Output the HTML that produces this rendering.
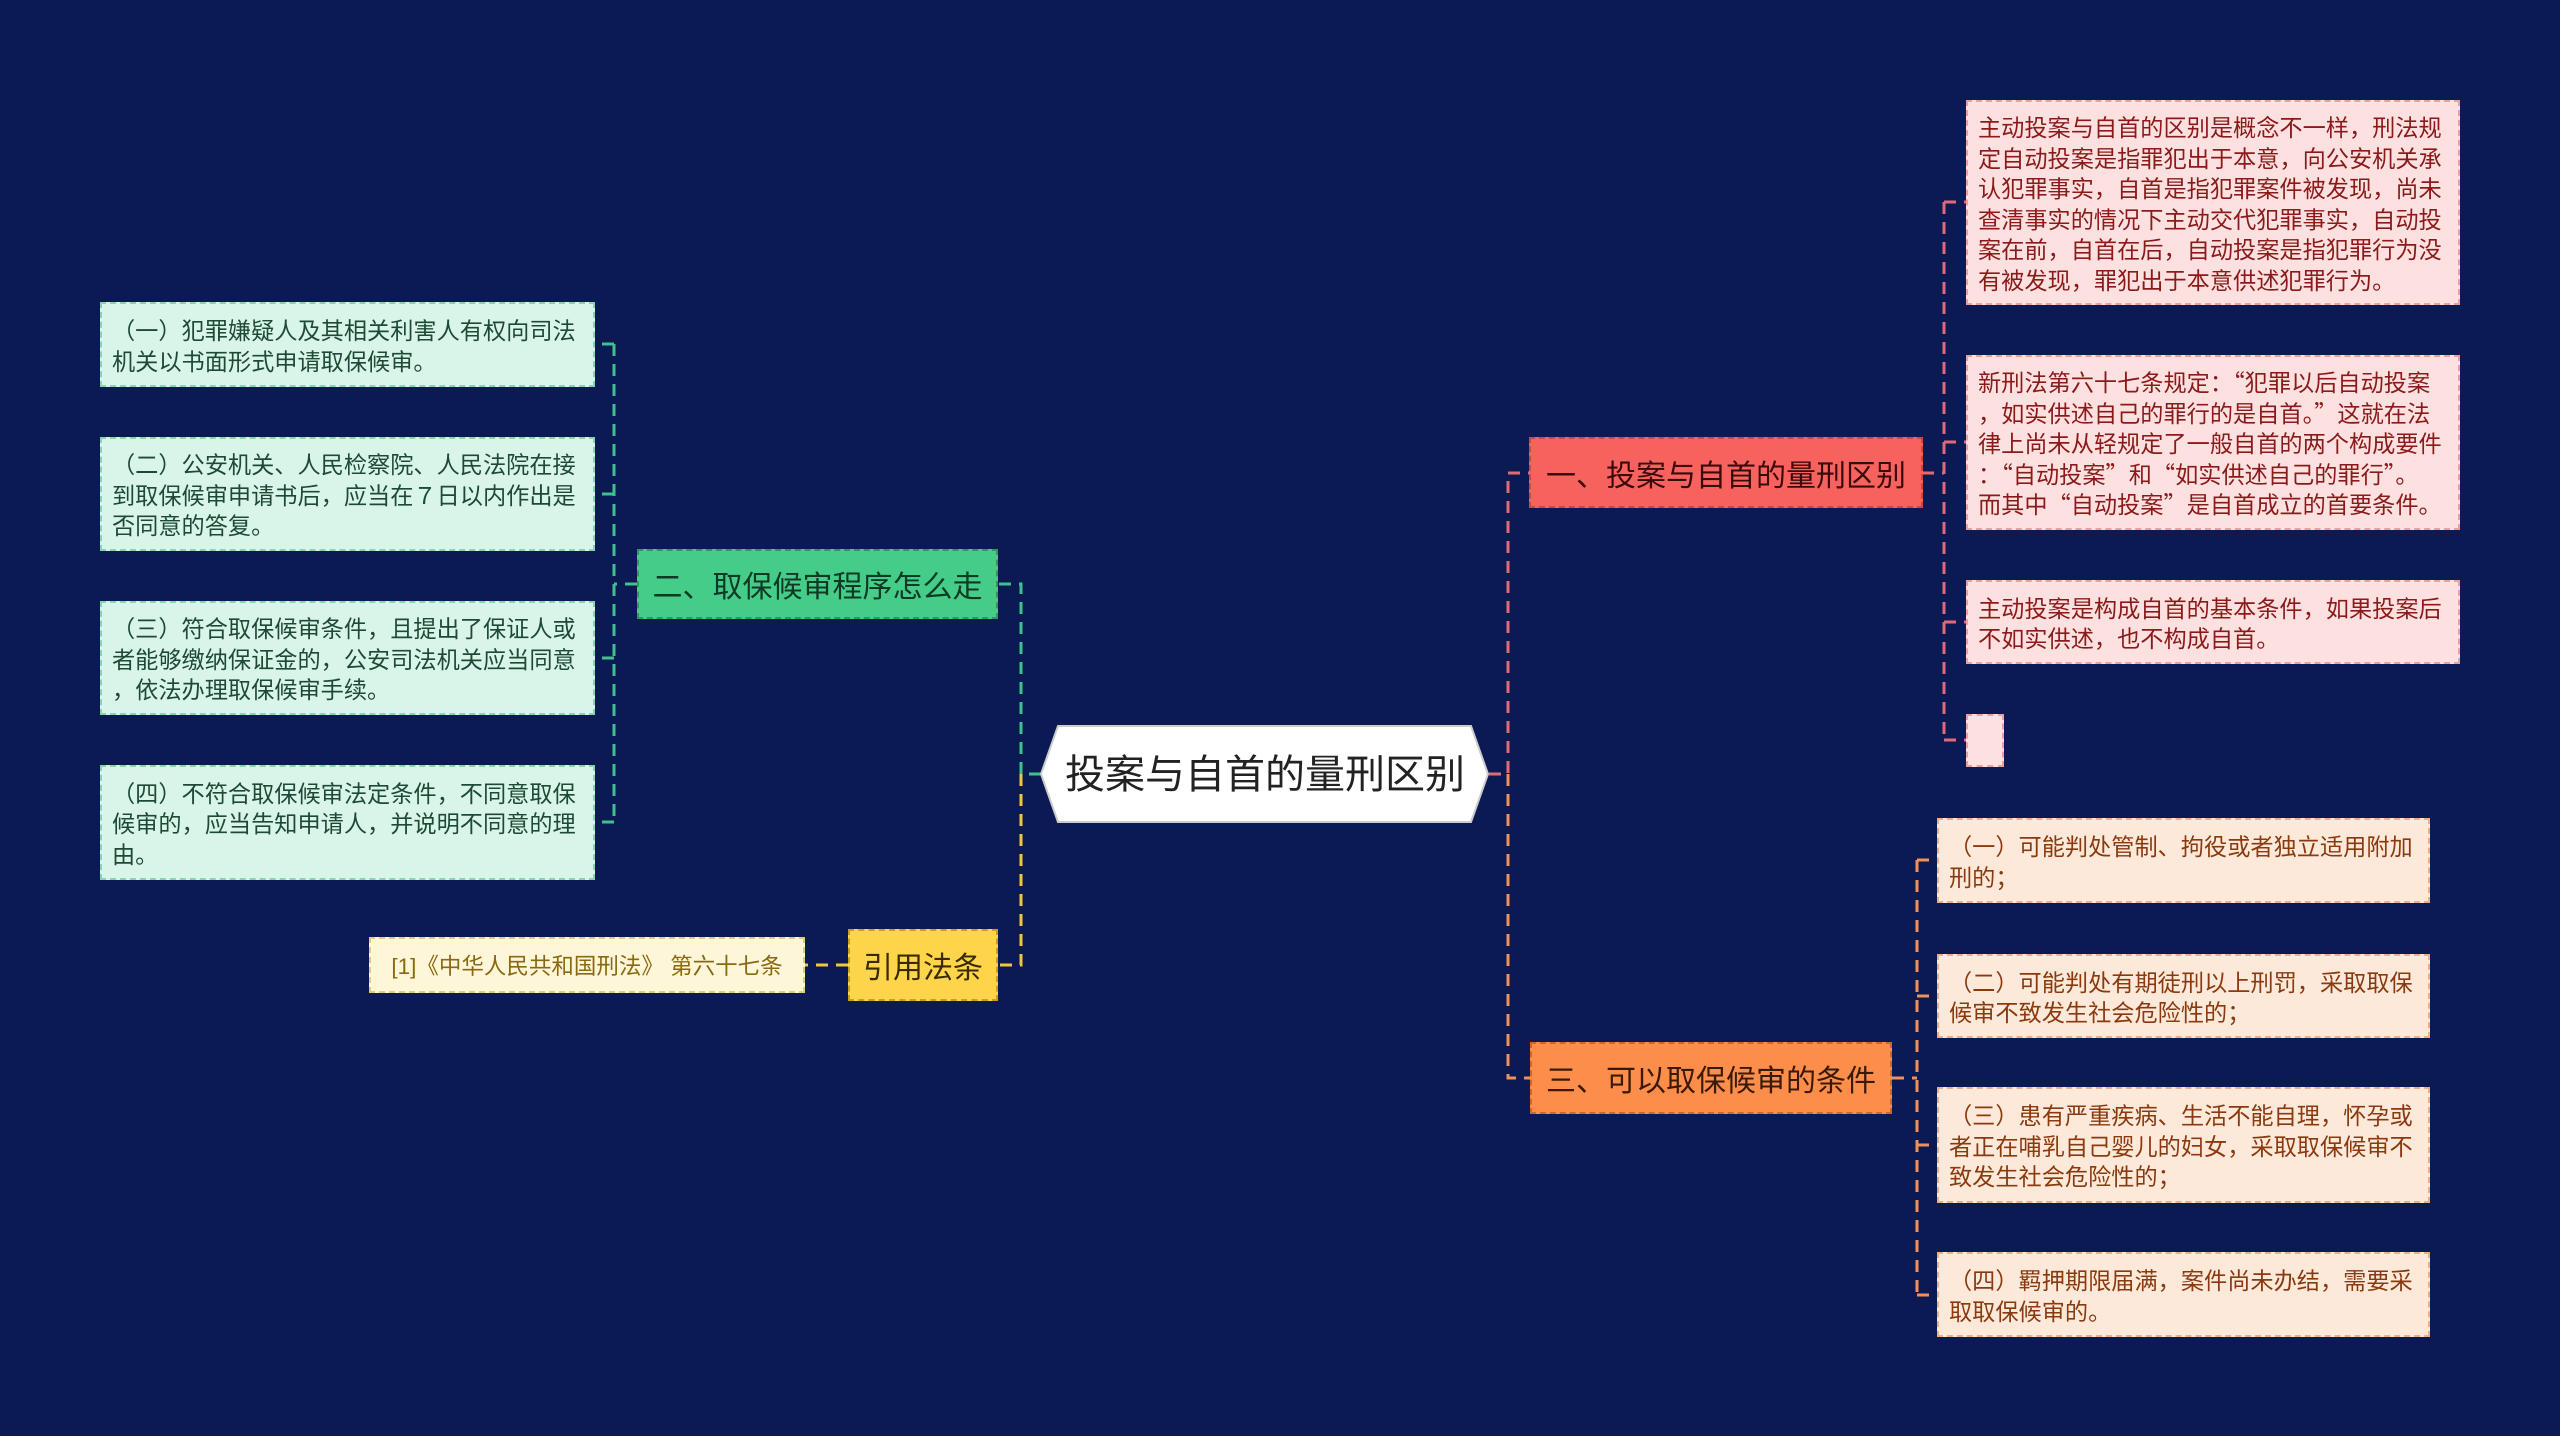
<!DOCTYPE html>
<html><head><meta charset="utf-8">
<style>
html,body{margin:0;padding:0}
body{width:2560px;height:1436px;background:#0c1a54;position:relative;overflow:hidden;font-family:"Liberation Sans","Noto Sans CJK SC",sans-serif}
.b{position:absolute;box-sizing:border-box;border:2px dashed}
.leaf{font-family:"Noto Sans CJK SC",sans-serif;font-size:23.2px;line-height:30.5px;padding:0 10px;display:flex;align-items:center;text-align:left;word-break:break-all;line-break:anywhere}
.node{display:flex;align-items:center;justify-content:center;white-space:nowrap}
.pk{background:#fde0e0;border-color:#e8a0a0;color:#8b1a1a}
.gr{background:#d9f5e9;border-color:#88d4ad;color:#1e4a35}
.og{background:#fde9da;border-color:#e8b090;color:#8a3a0e}
</style></head><body>
<svg width="2560" height="1436" style="position:absolute;left:0;top:0" fill="none" stroke-width="3" stroke-dasharray="12 8">
<g stroke="#e06a78">
<path d="M1489 774 H1508 V473 H1530"/>
<path d="M1922 473 H1944 M1944 202 V740 M1944 202 H1966 M1944 442 H1966 M1944 622 H1966 M1944 740 H1966"/>
</g>
<g stroke="#f0905a">
<path d="M1508 774 V1078 H1530"/>
<path d="M1892 1078 H1917 M1917 860 V1295 M1917 860 H1937 M1917 996 H1937 M1917 1145 H1937 M1917 1295 H1937"/>
</g>
<g stroke="#40c090">
<path d="M1041 774 H1021 V584 H998"/>
<path d="M637 584 H614 M614 344 V822 M614 344 H595 M614 494 H595 M614 658 H595 M614 822 H595"/>
</g>
<g stroke="#f0c840">
<path d="M1021 774 V965 H998"/>
<path d="M848 965 H805"/>
</g>
</svg>
<svg width="450" height="99" style="position:absolute;left:1040px;top:725px">
<polygon points="1,49 18,1 431,1 448,49 431,97 18,97" fill="#fff" stroke="#ccc" stroke-width="2"/>
<text x="225" y="63" text-anchor="middle" font-size="40" fill="#222" font-family="Liberation Sans, Noto Sans CJK SC, sans-serif">投案与自首的量刑区别</text>
</svg>
<div class="b node" style="left:1529px;top:437px;width:394px;height:71px;background:#f7625f;border-color:#c84848;color:#3a0a0a;font-size:30px">一、投案与自首的量刑区别</div>
<div class="b leaf pk" style="left:1966px;top:100px;width:494px;height:205px">主动投案与自首的区别是概念不一样，刑法规定自动投案是指罪犯出于本意，向公安机关承认犯罪事实，自首是指犯罪案件被发现，尚未查清事实的情况下主动交代犯罪事实，自动投案在前，自首在后，自动投案是指犯罪行为没有被发现，罪犯出于本意供述犯罪行为。</div>
<div class="b leaf pk" style="left:1966px;top:355px;width:494px;height:175px"><div>新刑法第六十七条规定：“犯罪以后自动投案，如实供述自己的罪行的是自首。”这就在法律上尚未从轻规定了一般自首的两个构成要件：“自动投案”和“如实供述自己的罪行”。<br>而其中“自动投案”是自首成立的首要条件。</div></div>
<div class="b leaf pk" style="left:1966px;top:580px;width:494px;height:84px">主动投案是构成自首的基本条件，如果投案后不如实供述，也不构成自首。</div>
<div class="b pk" style="left:1966px;top:714px;width:38px;height:53px"></div>
<div class="b node" style="left:1530px;top:1042px;width:362px;height:72px;background:#fd8d4b;border-color:#c86a30;color:#3a1a05;font-size:30px">三、可以取保候审的条件</div>
<div class="b leaf og" style="left:1937px;top:818px;width:493px;height:85px">（一）可能判处管制、拘役或者独立适用附加刑的；</div>
<div class="b leaf og" style="left:1937px;top:954px;width:493px;height:84px">（二）可能判处有期徒刑以上刑罚，采取取保候审不致发生社会危险性的；</div>
<div class="b leaf og" style="left:1937px;top:1087px;width:493px;height:116px">（三）患有严重疾病、生活不能自理，怀孕或者正在哺乳自己婴儿的妇女，采取取保候审不致发生社会危险性的；</div>
<div class="b leaf og" style="left:1937px;top:1252px;width:493px;height:85px">（四）羁押期限届满，案件尚未办结，需要采取取保候审的。</div>
<div class="b node" style="left:637px;top:549px;width:361px;height:70px;background:#45cc88;border-color:#2a9a62;color:#0d3a24;font-size:30px">二、取保候审程序怎么走</div>
<div class="b leaf gr" style="left:100px;top:302px;width:495px;height:85px">（一）犯罪嫌疑人及其相关利害人有权向司法机关以书面形式申请取保候审。</div>
<div class="b leaf gr" style="left:100px;top:437px;width:495px;height:114px">（二）公安机关、人民检察院、人民法院在接到取保候审申请书后，应当在７日以内作出是否同意的答复。</div>
<div class="b leaf gr" style="left:100px;top:601px;width:495px;height:114px">（三）符合取保候审条件，且提出了保证人或者能够缴纳保证金的，公安司法机关应当同意，依法办理取保候审手续。</div>
<div class="b leaf gr" style="left:100px;top:765px;width:495px;height:115px">（四）不符合取保候审法定条件，不同意取保候审的，应当告知申请人，并说明不同意的理由。</div>
<div class="b node" style="left:848px;top:929px;width:150px;height:72px;background:#fdd54b;border-color:#c8a020;color:#3a2a00;font-size:30px">引用法条</div>
<div class="b node" style="left:369px;top:937px;width:436px;height:56px;background:#fdf6d8;border-color:#e0cc80;color:#8a6a10;font-size:22.5px">[1]《中华人民共和国刑法》 第六十七条</div>
</body></html>
